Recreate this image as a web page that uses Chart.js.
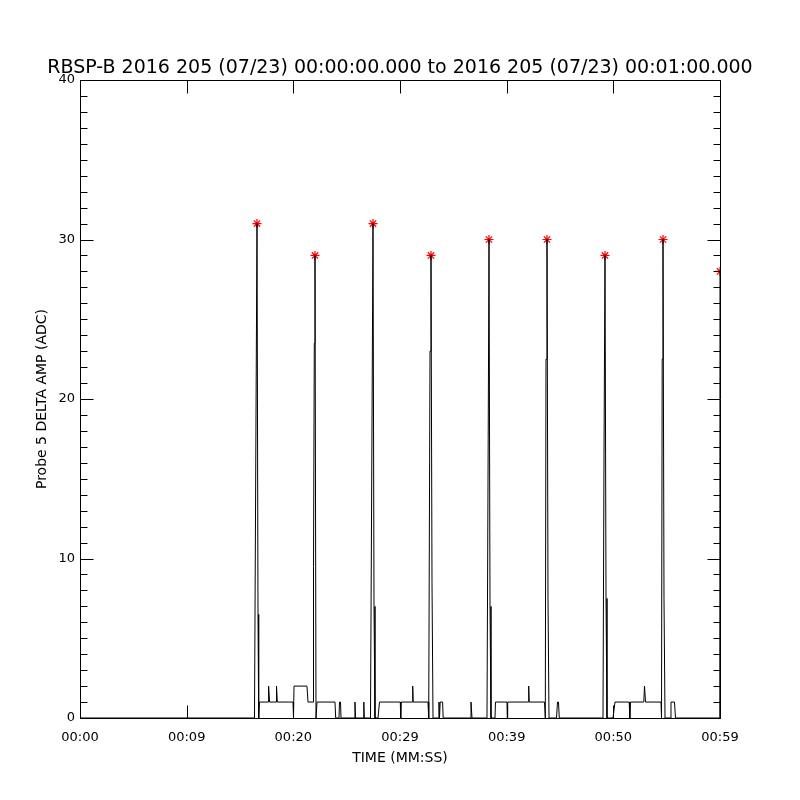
<!DOCTYPE html>
<html><head><meta charset="utf-8">
<script src="https://cdn.jsdelivr.net/npm/chart.js@4.4.1/dist/chart.umd.min.js"></script>
<style>html,body{margin:0;padding:0;background:#fff}</style>
</head><body>
<canvas id="c" width="800" height="800" style="width:800px;height:800px;display:block"></canvas>
<script>
const titleText = 'RBSP-B 2016 205 (07/23) 00:00:00.000 to 2016 205 (07/23) 00:01:00.000';
const xAxisTitle = 'TIME (MM:SS)';
const yAxisTitle = 'Probe 5 DELTA AMP (ADC)';
const xTickLabels = ['00:00','00:09','00:20','00:29','00:39','00:50','00:59'];
const yTickValues = [0, 10, 20, 30, 40];

const sampleTimes = [0,16.359,16.5,16.594,16.688,16.753,16.828,17.625,17.681,17.775,18.375,18.422,18.497,19.969,20.016,20.063,21.281,21.375,21.844,21.891,21.966,22.031,22.125,22.219,23.906,23.972,24.281,24.328,24.422,24.469,25.734,25.781,25.828,26.559,26.606,26.653,27.234,27.375,27.469,27.563,27.656,27.938,28.078,30.028,30.066,30.113,31.153,31.191,31.238,32.625,32.691,32.813,32.906,33.0,33.094,33.628,33.656,33.703,33.769,33.994,34.05,36.563,36.656,36.75,38.156,38.269,38.344,38.438,38.531,38.906,38.953,40.031,40.059,40.097,42.028,42.066,42.113,43.547,43.622,43.688,43.781,43.875,43.969,44.672,44.766,44.859,44.934,49.031,49.125,49.219,49.313,49.406,49.969,50.156,51.488,51.544,51.609,52.856,52.922,53.016,54.469,54.516,54.581,54.656,54.75,54.844,55.313,55.406,55.734,55.828,59.98,60];
const sampleValues = [0,0,19,31,6.5,0,1,1,2,1,1,2,1,1,0,2,2,1,1,9.5,23.5,29,0,1,1,0,0,1,1,0,0,1,0,0,1,0,0,18.5,31,7,0,0,1,1,0,1,1,2,1,1,0,23,29,8.5,0,0,1,0,1,1,0,0,1,0,0,17.5,30,7,0,0,1,1,0,1,1,2,1,1,0,22.5,30,7.5,0,0,1,1,0,0,16.5,29,7.5,0,0,1,1,0,1,1,2,1,1,0,22.5,30,7.5,0,0,1,1,0,0,28];

const peakTimes = [16.594,22.031,27.469,32.906,38.344,43.781,49.219,54.656,60];
const peakValues = [31,29,31,29,30,30,29,30,28];

const lineData = sampleTimes.map((t,i)=>({x:t,y:sampleValues[i]}));
const peakData = peakTimes.map((t,i)=>({x:t,y:peakValues[i]}));

const frameTicks = {
  id:'frameTicks',
  afterDatasetsDraw(chart){
    const {ctx, chartArea:a, scales:{x,y}} = chart;
    ctx.save();
    ctx.strokeStyle='#000'; ctx.lineWidth=1;
    const L=Math.round(a.left)+0.5, R=Math.round(a.right)+0.5, T=Math.round(a.top)+0.5, B=Math.round(a.bottom)+0.5;
    ctx.beginPath();
    ctx.rect(L,T,R-L,B-T);
    x.ticks.forEach(tk=>{
      const px=Math.round(x.getPixelForValue(tk.value))+0.5;
      ctx.moveTo(px,B); ctx.lineTo(px,B-13);
      ctx.moveTo(px,T); ctx.lineTo(px,T+13);
    });
    for(let v=y.min; v<=y.max; v+=1){
      const py=Math.round(y.getPixelForValue(v))+0.5;
      const len=(v%10===0)?13:7;
      ctx.moveTo(L,py); ctx.lineTo(L+len,py);
      ctx.moveTo(R,py); ctx.lineTo(R-len,py);
    }
    ctx.stroke();
    ctx.restore();
  }
};

new Chart(document.getElementById('c'), {
  data:{
    datasets:[
      {type:'line', data:lineData, borderColor:'#000', borderWidth:1, pointRadius:0, tension:0, fill:false, clip:0},
      {type:'scatter', data:peakData, pointStyle:'star', pointRadius:4.5, borderColor:'#ff0000', backgroundColor:'#ff0000', borderWidth:1.2, clip:0}
    ]
  },
  options:{
    responsive:false, animation:false, devicePixelRatio:1,
    layout:{padding:0},
    plugins:{
      legend:{display:false}, tooltip:{enabled:false},
      title:{display:true, text:titleText, color:'#000', font:{family:'DejaVu Sans', size:19, weight:'normal', lineHeight:1.2}, padding:{top:57,bottom:0.2}}
    },
    scales:{
      x:{type:'linear', min:0, max:60,
        grid:{display:false, drawTicks:false}, border:{display:false},
        ticks:{stepSize:10, color:'#000', padding:12, maxRotation:0, autoSkip:false, font:{family:'DejaVu Sans', size:13},
          callback:(v)=>xTickLabels[Math.round(v/10)]},
        title:{display:true, text:xAxisTitle, color:'#000', font:{family:'DejaVu Sans', size:14}, padding:{top:0,bottom:33}},
        afterFit:(s)=>{s.height=82;}
      },
      y:{type:'linear', min:0, max:40,
        grid:{display:false, drawTicks:false}, border:{display:false},
        afterBuildTicks:(s)=>{s.ticks=yTickValues.map(v=>({value:v}));},
        ticks:{color:'#000', padding:5, font:{family:'DejaVu Sans', size:13}},
        title:{display:true, text:yAxisTitle, color:'#000', font:{family:'DejaVu Sans', size:14}, padding:{top:34,bottom:0}},
        afterFit:(s)=>{s.width=80;}
      },
      yRight:{type:'linear', position:'right', min:0, max:40, display:true,
        grid:{display:false, drawTicks:false}, border:{display:false},
        ticks:{display:false},
        afterFit:(s)=>{s.width=80;}
      }
    }
  },
  plugins:[frameTicks]
});
</script>
</body></html>
